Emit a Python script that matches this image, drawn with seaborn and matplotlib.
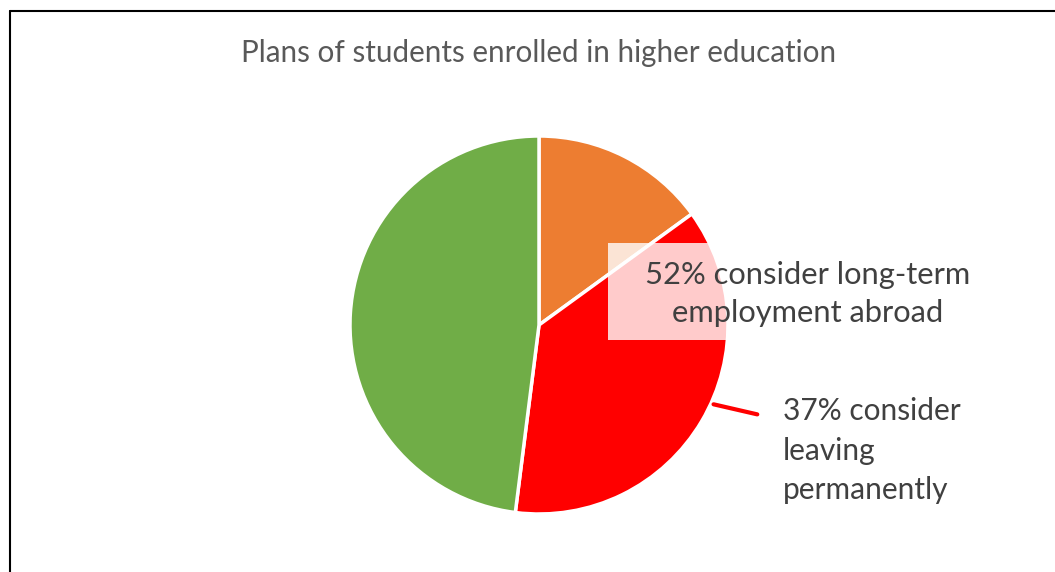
import numpy as np
import matplotlib
matplotlib.use("Agg")
import matplotlib.pyplot as plt
from matplotlib.patches import Rectangle
import seaborn as sns

# --- data ---
categories = ["Other", "Consider leaving permanently", "Other long-term abroad"]
shares = [15, 37, 48]
colors = ["#ED7D31", "#FF0000", "#70AD47"]
title = "Plans of students enrolled in higher education"
label_abroad = "52% consider long-term\nemployment abroad"
label_leaving = "37% consider\nleaving\npermanently"

sns.set_theme(style="white")
plt.rcParams["font.family"] = ["Lato", "DejaVu Sans"]

W, H = 1055, 572
fig = plt.figure(figsize=(W / 100, H / 100), dpi=100)
fig.patch.set_facecolor("white")

def px(x, y):
    # pixel (from top-left) -> figure fraction
    return x / W, 1 - y / H

# chart border (left + top visible)
fig.add_artist(plt.Line2D([10 / W, 10 / W], [0, 1 - 11 / H], color="black", lw=1.5, transform=fig.transFigure))
fig.add_artist(plt.Line2D([10 / W, 1], [1 - 11 / H, 1 - 11 / H], color="black", lw=1.5, transform=fig.transFigure))

cx, cy, r = 539, 325, 189
x0, y0 = px(cx - r, cy + r)
ax = fig.add_axes([x0, y0, 2 * r / W, 2 * r / H])
wedges, _ = ax.pie(shares, colors=colors, startangle=90, counterclock=False,
                   radius=1, wedgeprops=dict(edgecolor="white", linewidth=2.5))
ax.set_xlim(-1, 1)
ax.set_ylim(-1, 1)
ax.set_aspect("equal")
ax.axis("off")

fig.text(*px(539, 53), title, ha="center", va="center", fontsize=21.3, color="#595959")

# semi-transparent box behind the 52% label
bx0, by0 = px(608, 340)
fig.add_artist(Rectangle((bx0, by0), (975 - 608) / W, (340 - 243) / H, transform=fig.transFigure,
                         facecolor="white", alpha=0.8, edgecolor="none", zorder=3))
fig.text(*px(808, 294), label_abroad, ha="center", va="center", fontsize=22.2,
         color="#404040", linespacing=1.45, zorder=4)

# leader line from red wedge to its label
w = wedges[1]
mid = np.deg2rad((w.theta1 + w.theta2) / 2 + 6)
ex, ey = np.cos(mid), np.sin(mid)
tx, ty = ax.transAxes.inverted().transform(fig.transFigure.transform(px(760, 415)))
ax.annotate("", xy=(ex, ey), xytext=(tx * 2 - 1, ty * 2 - 1),
            arrowprops=dict(arrowstyle="-", color="#FF0000", lw=3), annotation_clip=False)
fig.text(*px(783, 451), label_leaving, ha="left", va="center", fontsize=21.5,
         color="#404040", linespacing=1.5)

fig.savefig("out.png", dpi=100, facecolor="white")
